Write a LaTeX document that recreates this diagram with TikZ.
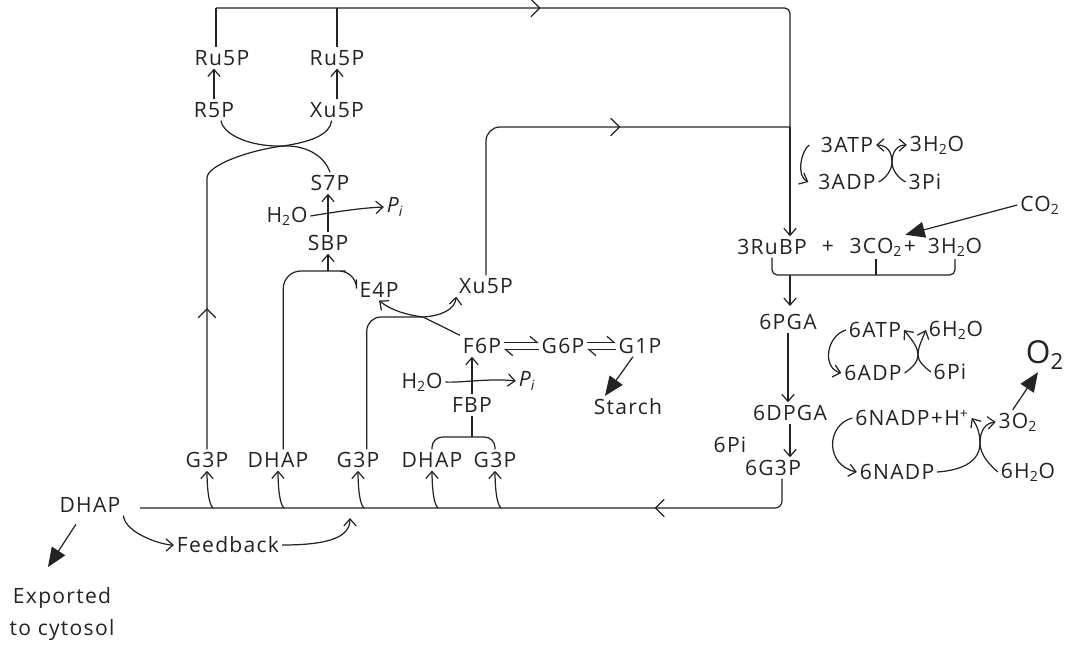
\documentclass[tikz,border=0pt]{standalone}
\usepackage{fontspec}
\setmainfont{Open Sans}[LetterSpace=6]
\usepackage{tikz}
\usetikzlibrary{arrows.meta, positioning, calc, decorations.markings}
\definecolor{mydark}{RGB}{35,35,35}
\tikzset{
  met/.style={font=\fontsize{12}{14}\selectfont, text=mydark, inner sep=1.5pt},
  bigmet/.style={font=\fontsize{18}{20}\selectfont, text=mydark, inner sep=1.5pt},
  line/.style={line width=0.7pt, color=mydark},
  arrow/.style={line, -{Straight Barb[length=4pt,width=7pt]}},
  fatarrow/.style={line, -{Triangle[length=11pt,width=9pt]}},
  harp/.style={line, -{Straight Barb[left,length=4pt,width=7pt]}},
  midarrow/.style={postaction={decorate}, decoration={markings,
    mark=at position #1 with {\arrow{Straight Barb[length=5pt,width=10pt]}}}}
}

\begin{document}
\begin{tikzpicture}[x=0.02cm, y=-0.02cm]
  \useasboundingbox (0,0) rectangle (1073,657);
  % Regeneration of RuBP
  \node[met] (rusp1) at (222,58) {Ru5P};
  \node[met] (rusp2) at (337,58) {Ru5P};
  \node[met] (r5p) at (214,110) {R5P};
  \node[met] (xu5p1) at (337,110) {Xu5P};
  \node[met] (s7p) at (330,183) {S7P};
  \node[met] (h2oa) at (287,216) {H\textsubscript{2}O};
  \node[met] (pia) at (395,207) {\textit{P\textsubscript{i}}};
  \node[met] (sbp) at (328,243) {SBP};
  \node[met] (e4p) at (379,290) {E4P};
  \node[met] (xu5p2) at (486,286) {Xu5P};
  \node[met] (f6p) at (482,346) {F6P};
  \node[met] (g6p) at (563,346) {G6P};
  \node[met] (g1p) at (640,346) {G1P};
  \node[met] (starch) at (628,407) {Starch};
  \node[met] (h2ob) at (422,382) {H\textsubscript{2}O};
  \node[met] (pib) at (527,381) {\textit{P\textsubscript{i}}};
  \node[met] (fbp) at (472,405) {FBP};
  % Triose phosphates
  \node[met] (g3p1) at (207,460) {G3P};
  \node[met] (dhap1) at (278,460) {DHAP};
  \node[met] (g3p2) at (358,460) {G3P};
  \node[met] (dhap3) at (432,460) {DHAP};
  \node[met] (g3p3) at (495,460) {G3P};
  \node[met] (dhap0) at (90,505) {DHAP};
  \node[met] (feedback) at (228,545) {Feedback};
  \node[met, align=center, font=\fontsize{12}{18}\selectfont] (exported) at (62,614) {Exported\\to cytosol};
  % Carboxylation and reduction
  \node[met] (atp3) at (847,145) {3ATP};
  \node[met] (adp3) at (847,182) {3ADP};
  \node[met] (h2o3) at (937,145) {3H\textsubscript{2}O};
  \node[met] (pi3) at (925,182) {3Pi};
  \node[met] (co2) at (1040,205) {CO\textsubscript{2}};
  \node[met] (rubp) at (772,247) {3RuBP};
  \node[met] (plus1) at (828,247) {+};
  \node[met] (co2b) at (876,247) {3CO\textsubscript{2}};
  \node[met] (plus2) at (910,247) {+};
  \node[met] (h2oc) at (955,247) {3H\textsubscript{2}O};
  \node[met] (pga) at (788,322) {6PGA};
  \node[met] (atp6) at (875,330) {6ATP};
  \node[met] (adp6) at (873,373) {6ADP};
  \node[met] (h2o6) at (956,330) {6H\textsubscript{2}O};
  \node[met] (pi6) at (950,372) {6Pi};
  \node[met] (dpga) at (790,413) {6DPGA};
  \node[met] (pi6b) at (730,445) {6Pi};
  \node[met] (g3p6) at (773,468) {6G3P};
  \node[met] (nadph) at (912,418) {6NADP+H\textsuperscript{+}};
  \node[met] (o2a) at (1018,422) {3O\textsubscript{2}};
  \node[bigmet] (o2) at (1045,355) {O\textsubscript{2}};
  \node[met] (nadp) at (897,472) {6NADP};
  \node[met] (h2o6b) at (1028,472) {6H\textsubscript{2}O};

  % Junction points
  \coordinate (tl) at (216,8);
  \coordinate (tr) at (790,8);
  \coordinate (jn) at (790,127);
  \coordinate (lv) at (207,178);
  \coordinate (cx1) at (283,146);
  \coordinate (cx2) at (423,317);
  \coordinate (sbpj) at (328,271);
  \coordinate (fbpj) at (472,437);
  \coordinate (bl) at (140,508);
  \coordinate (br) at (782,508);
  \coordinate (brk) at (772,275);
  \coordinate (cx3) at (892,162);
  \coordinate (cx4) at (918,355);
  \coordinate (cx5) at (980,443);
  \coordinate (fbend) at (350,518);

  % Return to RuBP
  \draw[line] (rusp1.north -| tl) -- (tl);
  \draw[line, rounded corners=3pt, midarrow=0.47] (tl) -- (tr) -- (jn);
  \draw[line] (rusp2.north) -- (rusp2.north |- tl);
  \draw[line, rounded corners=8pt, midarrow=0.62] (xu5p2.north) |- (jn);
  \draw[arrow] (jn) -- (jn |- rubp.north);
  % Transketolase (S7P + G3P)
  \draw[arrow] (r5p.north) -- (r5p.north |- rusp1.south);
  \draw[arrow] (xu5p1.north) -- (xu5p1.north |- rusp2.south);
  \draw[line] ([xshift=4pt]r5p.south) .. controls +(2,14) and (250,147) .. (cx1) .. controls (305,145) and (324,155) .. (s7p.north);
  \draw[line, midarrow=0.34] (g3p1.north) -- (lv) .. controls (207,165) and (250,150) .. (cx1) .. controls (310,142) and (330,135) .. ([xshift=-3pt]xu5p1.south);
  \draw[arrow] (sbp.north) -- (sbp.north |- s7p.south);
  \draw[arrow] (h2oa.east) .. controls (335,212) and (360,208) .. (pia.west);
  % Aldolase (DHAP + E4P)
  \draw[line, rounded corners=10pt] ([xshift=3pt]dhap1.north) |- (sbpj) -| (e4p.north west);
  \draw[arrow] (sbpj) -- (sbp.south);
  % Transketolase (F6P + G3P)
  \draw[line, rounded corners=8pt] ([xshift=5pt]g3p2.north) |- (cx2);
  \draw[line] (f6p.north west) -- (cx2);
  \draw[arrow] (cx2) .. controls (408,315) and (392,311) .. (e4p.south);
  \draw[arrow] (cx2) .. controls (440,316) and (455,310) .. (xu5p2.south west);
  % Hexose phosphates
  \draw[harp] ([yshift=2pt]f6p.east) -- ([yshift=2pt]g6p.west);
  \draw[harp] ([yshift=-2pt]g6p.west) -- ([yshift=-2pt]f6p.east);
  \draw[harp] ([yshift=2pt]g6p.east) -- ([yshift=2pt]g1p.west);
  \draw[harp] ([yshift=-2pt]g1p.west) -- ([yshift=-2pt]g6p.east);
  \draw[fatarrow] ([xshift=-4pt]g1p.south) -- ([xshift=8pt]starch.north west);
  \draw[arrow] (fbp.north) -- (fbp.north |- f6p.south);
  \draw[arrow] (h2ob.east) .. controls (460,383) and (490,378) .. (pib.west);
  \draw[line] (fbp.south) -- (fbpj);
  \draw[line, rounded corners=6pt] (dhap3.north) |- (g3p3.north |- fbpj) -- (g3p3.north);
  % Triose phosphate line
  \draw[line, rounded corners=4pt, midarrow=0.23] (g3p6.south -| br) -- (br) -- (bl);
  \foreach \n in {g3p1, dhap1, g3p2, dhap3, g3p3}
    \draw[arrow] ($(\n.south |- bl)+(6,0)$) .. controls +(-5,-4) and +(0,12) .. (\n.south);
  \draw[arrow] (dhap0.south east) .. controls +(2,18) and +(-12,0) .. (feedback.west);
  \draw[arrow] (feedback.east) .. controls +(50,0) and +(0,18) .. (fbend);
  \draw[fatarrow] ([xshift=-8pt,yshift=-5pt]dhap0.south) -- ([xshift=-8pt,yshift=10pt]exported.north);
  % ATP and CO2 uptake
  \draw[arrow] ([xshift=-5pt]atp3.west) .. controls (801,151) and (796,176) .. ([xshift=-4pt]adp3.west);
  \draw[arrow] (adp3.east) .. controls (886,178) and (892,170) .. (cx3) .. controls (892,152) and (897,145) .. (h2o3.west);
  \draw[arrow] (pi3.west) .. controls (898,178) and (892,170) .. (cx3) .. controls (892,152) and (887,145) .. (atp3.east);
  \draw[fatarrow] (co2.west) -- (co2b.north east);
  \draw[line, rounded corners=3pt] (rubp.south) -- (rubp.south |- brk) -- (h2oc.south |- brk) -- (h2oc.south);
  \draw[line] (co2b.south) -- (co2b.south |- brk);
  \draw[arrow, shorten >=3pt] (jn |- brk) -- (jn |- pga.north);
  \draw[arrow] (pga.south) -- (pga.south |- dpga.north);
  \draw[arrow] (dpga.south) -- (dpga.south |- g3p6.north);
  % ATP and NADPH
  \draw[arrow] (atp6.west) .. controls (826,336) and (822,368) .. (adp6.west);
  \draw[arrow] (adp6.east) .. controls (912,368) and (918,362) .. (cx4) .. controls (918,347) and (922,340) .. (h2o6.west);
  \draw[arrow] (pi6.west) .. controls (925,367) and (918,362) .. (cx4) .. controls (918,347) and (912,340) .. (atp6.east);
  \draw[arrow] (nadph.west) .. controls (826,425) and (825,465) .. (nadp.west);
  \draw[arrow] (nadp.east) .. controls (965,470) and (980,460) .. (cx5) .. controls (980,430) and (986,423) .. (o2a.west);
  \draw[arrow] (h2o6b.west) .. controls (990,465) and (980,455) .. (cx5) .. controls (980,430) and (975,423) .. (nadph.east);
  \draw[fatarrow] ([xshift=-3pt]o2a.north) -- ([xshift=-4pt]o2.south);
\end{tikzpicture}
\end{document}
